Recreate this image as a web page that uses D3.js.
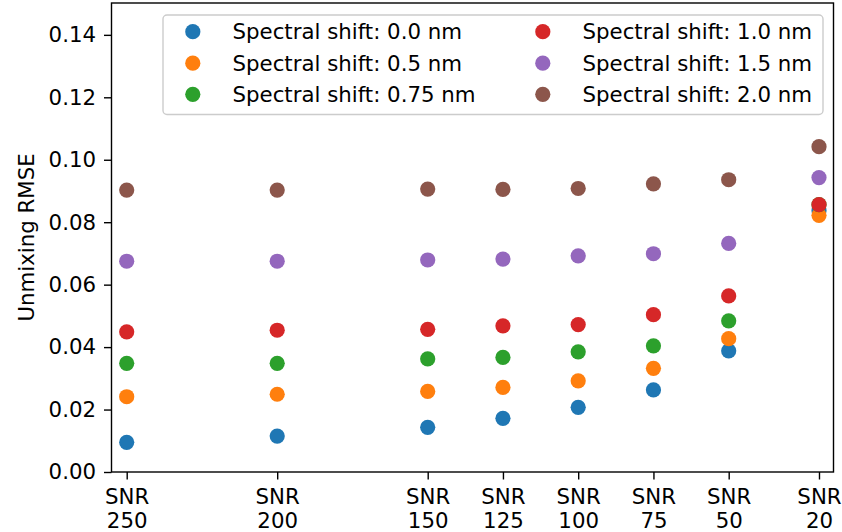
<!DOCTYPE html>
<html>
<head>
<meta charset="utf-8">
<script src="https://d3js.org/d3.v7.min.js"></script>
<style>
  html, body { margin: 0; padding: 0; background: #fff; }
  svg { display: block; font-family: "DejaVu Sans", sans-serif; }
</style>
</head>
<body>
<svg id="chart" width="842" height="532"></svg>
<script>
// ---- data ----
const snr = [250, 200, 150, 125, 100, 75, 50, 20];
const shift00  = [0.0095, 0.0115, 0.0143, 0.0172, 0.0207, 0.0263, 0.0388, 0.0837];
const shift05  = [0.0241, 0.0249, 0.0258, 0.0271, 0.0292, 0.0332, 0.0427, 0.0822];
const shift075 = [0.0348, 0.0348, 0.0362, 0.0367, 0.0385, 0.0404, 0.0484, 0.0856];
const shift10  = [0.0449, 0.0454, 0.0457, 0.0468, 0.0472, 0.0504, 0.0564, 0.0856];
const shift15  = [0.0675, 0.0675, 0.0679, 0.0682, 0.0692, 0.0699, 0.0732, 0.0943];
const shift20  = [0.0903, 0.0903, 0.0906, 0.0905, 0.0908, 0.0923, 0.0936, 0.1042];
const seriesNames = ["Spectral shift: 0.0 nm", "Spectral shift: 0.5 nm", "Spectral shift: 0.75 nm",
                     "Spectral shift: 1.0 nm", "Spectral shift: 1.5 nm", "Spectral shift: 2.0 nm"];
const seriesValues = [shift00, shift05, shift075, shift10, shift15, shift20];
const colors = ["#1f77b4", "#ff7f0e", "#2ca02c", "#d62728", "#9467bd", "#8c564b"];
const yTicks = [0.00, 0.02, 0.04, 0.06, 0.08, 0.10, 0.12, 0.14];
const yLabel = "Unmixing RMSE";

// ---- layout ----
const pLeft = 111.5, pRight = 833.5, pTop = 3, pBottom = 472;
const fs = 21.3;
const svg = d3.select("#chart");

const x = d3.scaleLinear().domain([255.05, 15.18]).range([pLeft, pRight]);
const y = d3.scaleLinear().domain([0, 0.1502]).range([pBottom, pTop]);

// points
seriesValues.forEach((vals, si) => {
  svg.append("g").selectAll("circle")
    .data(vals.map((v, i) => ({ s: snr[i], v })))
    .join("circle")
    .attr("cx", d => x(d.s))
    .attr("cy", d => y(d.v))
    .attr("r", 7.6)
    .attr("fill", colors[si]);
});

// axes
const xAxis = svg.append("g")
  .attr("transform", `translate(0,${pBottom})`)
  .call(d3.axisBottom(x).tickValues(snr).tickSize(7.5).tickPadding(8).tickFormat(() => ""));
xAxis.select(".domain").remove();
xAxis.selectAll(".tick line").attr("stroke", "#000").attr("stroke-width", 1.4);
xAxis.selectAll(".tick text").each(function(d) {
  const t = d3.select(this);
  t.text(null).attr("font-size", fs).attr("fill", "#000").attr("font-family", "DejaVu Sans")
    .attr("dy", null).attr("y", 0);
  t.append("tspan").attr("x", 0).attr("y", 32).text("SNR");
  t.append("tspan").attr("x", 0).attr("y", 55.7).text(d);
});

const yAxis = svg.append("g")
  .attr("transform", `translate(${pLeft},0)`)
  .call(d3.axisLeft(y).tickValues(yTicks).tickSize(7.5).tickPadding(8).tickFormat(d3.format(".2f")));
yAxis.select(".domain").remove();
yAxis.selectAll(".tick line").attr("stroke", "#000").attr("stroke-width", 1.4);
yAxis.selectAll(".tick text").attr("font-size", fs).attr("fill", "#000").attr("font-family", "DejaVu Sans");

// frame
svg.append("rect")
  .attr("x", pLeft).attr("y", pTop).attr("width", pRight - pLeft).attr("height", pBottom - pTop)
  .attr("fill", "none").attr("stroke", "#000").attr("stroke-width", 1.4);

// y label
svg.append("text")
  .attr("transform", `translate(33.5,${(pTop + pBottom) / 2}) rotate(-90)`)
  .attr("text-anchor", "middle")
  .attr("font-size", fs)
  .attr("fill", "#000")
  .text(yLabel);

// legend
const lg = svg.append("g");
lg.append("rect")
  .attr("x", 163).attr("y", 15).attr("width", 823 - 163).attr("height", 114.5 - 15)
  .attr("rx", 4).attr("ry", 4)
  .attr("fill", "#fff").attr("fill-opacity", 0.8)
  .attr("stroke", "#cccccc").attr("stroke-width", 1.4);
const rowY = [31.7, 63.2, 94.3];
const colMarkerX = [192.8, 542.8];
const colTextX = [232.5, 582.5];
seriesNames.forEach((name, i) => {
  const col = Math.floor(i / 3), row = i % 3;
  lg.append("circle")
    .attr("cx", colMarkerX[col]).attr("cy", rowY[row]).attr("r", 7.6)
    .attr("fill", colors[i]);
  lg.append("text")
    .attr("x", colTextX[col]).attr("y", rowY[row])
    .attr("dy", "0.36em")
    .attr("font-size", fs).attr("fill", "#000")
    .text(name);
});
</script>
</body>
</html>
